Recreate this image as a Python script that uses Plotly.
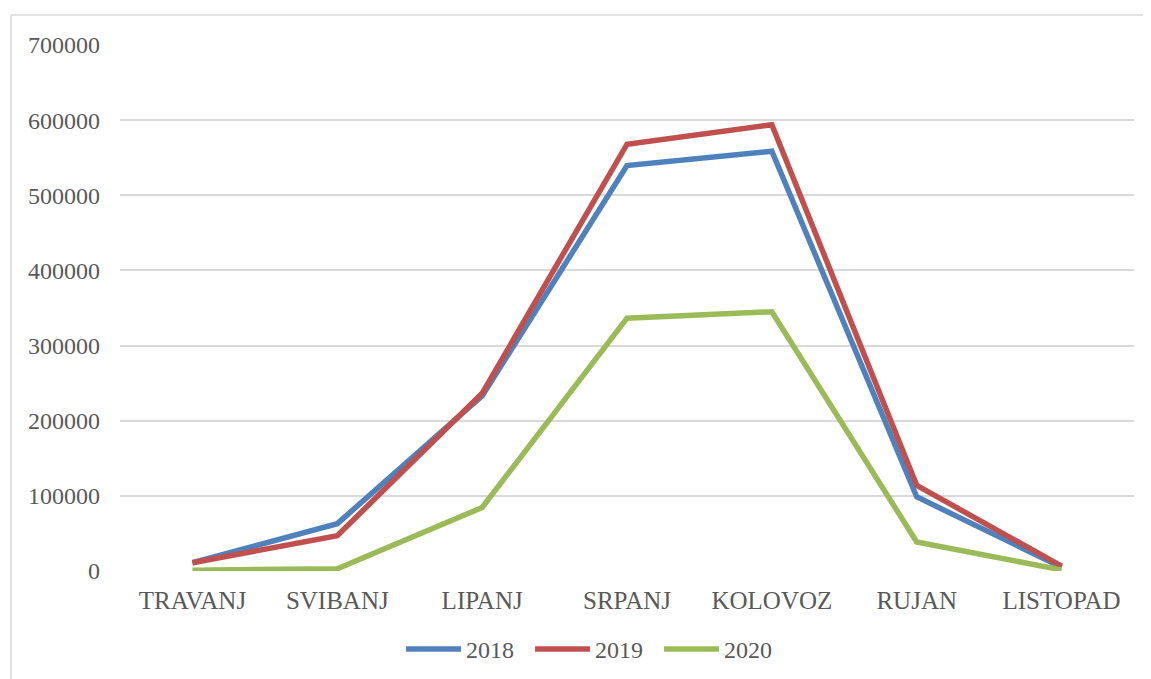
import plotly.graph_objects as go

months = ["TRAVANJ", "SVIBANJ", "LIPANJ", "SRPANJ", "KOLOVOZ", "RUJAN", "LISTOPAD"]
y2018 = [11000, 63000, 233000, 539500, 558700, 98700, 5000]
y2019 = [11000, 47000, 236500, 568000, 594000, 114000, 6500]
y2020 = [1000, 3000, 84500, 336500, 345000, 38700, 1500]
series_names = ["2018", "2019", "2020"]
colors = ["#4F81BD", "#C0504D", "#9BBB59"]
tick_vals = [0, 100000, 200000, 300000, 400000, 500000, 600000, 700000]

fig = go.Figure()
for name, vals, c in zip(series_names, [y2018, y2019, y2020], colors):
    fig.add_trace(go.Scatter(x=months, y=vals, name=name, mode="lines",
                             line=dict(color=c, width=5.5)))

font_family = "Liberation Serif, Times New Roman, serif"
W, H = 1151, 679
off = 8  # page body margin
ml, mr, mt, mb = 112, 25, 37, 116
# screen positions of the plot area
px0, px1 = off + ml, off + W - mr
py0, py1 = off + mt, off + H - mb
pw, ph = px1 - px0, py1 - py0

fig.update_layout(
    width=W, height=H,
    margin=dict(l=ml, r=mr, t=mt, b=mb),
    paper_bgcolor="white", plot_bgcolor="white",
    font=dict(family=font_family, size=24, color="#595959"),
    xaxis=dict(type="category", range=[-0.5, 6.5], showgrid=False, zeroline=False,
               showline=False, ticks="", ticklabelstandoff=12,
               tickfont=dict(size=25, color="#595959")),
    yaxis=dict(range=[0, 700000], tickvals=tick_vals, showgrid=True,
               gridcolor="#D9D9D9", gridwidth=1.5, zeroline=False, showline=False,
               ticks="", ticklabelstandoff=19, tickformat="d",
               tickfont=dict(size=24, color="#595959")),
    legend=dict(orientation="h", x=0.468, xanchor="center", y=-0.149, yanchor="middle",
                itemwidth=55, entrywidth=59, entrywidthmode="pixels",
                font=dict(size=24, color="#595959"),
                bgcolor="rgba(0,0,0,0)"),
    showlegend=True,
)

def sx(x):
    return (x - px0) / pw

def sy(y):
    return (py1 - y) / ph

fig.add_shape(type="line", xref="paper", yref="paper",
              x0=sx(11), x1=sx(1170), y0=sy(15), y1=sy(15),
              line=dict(color="#D9D9D9", width=1.5))
fig.add_shape(type="line", xref="paper", yref="paper",
              x0=sx(11), x1=sx(11), y0=sy(15), y1=sy(720),
              line=dict(color="#D9D9D9", width=1.5))

fig.write_html("out.html")
